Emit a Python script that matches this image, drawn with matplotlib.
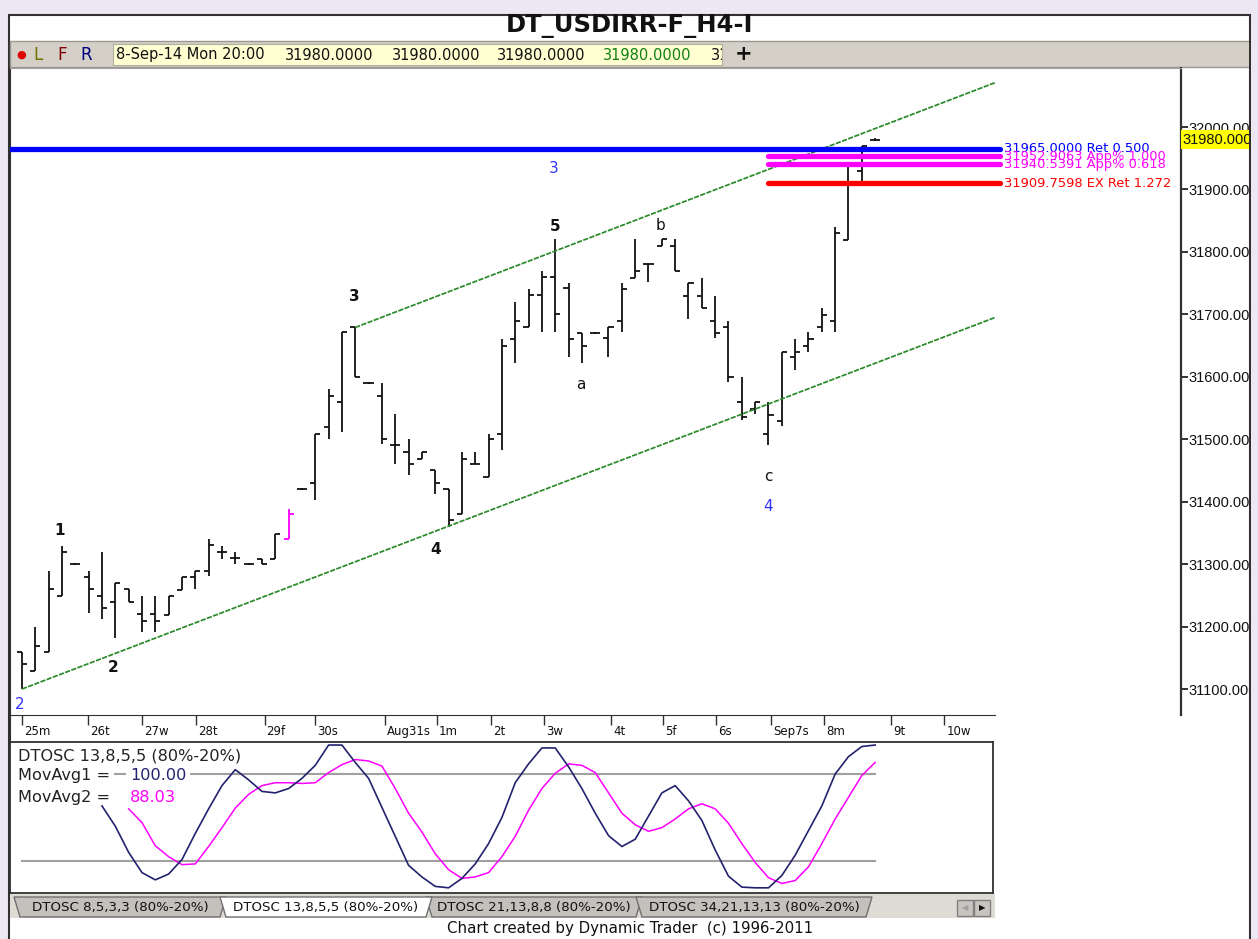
import matplotlib
matplotlib.use("Agg")
import matplotlib.pyplot as plt
from matplotlib.patches import Rectangle, Polygon
from matplotlib.transforms import blended_transform_factory

W, H = 1258, 939

# 4h bars, one per slot (open = left tick, close = right tick)
opens = [31160, 31129, 31159, 31249, 31300, 31280, 31249, 31240, 31260, 31220,
         31220, 31219, 31259, 31279, 31289, 31320, 31310, 31300, 31309, 31309,
         31340, 31420, 31430, 31520, 31559, 31679, 31590, 31569, 31490, 31480,
         31469, 31450, 31420, 31380, 31460, 31439, 31509, 31660, 31679, 31731,
         31760, 31742, 31670, 31670, 31662, 31690, 31759, 31781, 31809, 31810,
         31729, 31729, 31690, 31680, 31560, 31548, 31509, 31530, 31632, 31650,
         31680, 31690, 31819, 31930, 31980]
highs = [31160, 31200, 31289, 31329, 31302, 31289, 31320, 31269, 31260, 31249,
         31249, 31249, 31279, 31289, 31340, 31329, 31320, 31302, 31309, 31349,
         31389, 31422, 31509, 31580, 31671, 31679, 31592, 31590, 31540, 31500,
         31480, 31450, 31420, 31480, 31480, 31509, 31660, 31720, 31740, 31770,
         31820, 31750, 31670, 31672, 31680, 31750, 31820, 31781, 31820, 31820,
         31750, 31759, 31729, 31690, 31600, 31560, 31560, 31640, 31660, 31671,
         31710, 31840, 31940, 31970, 31982]
lows = [31100, 31129, 31159, 31249, 31298, 31221, 31212, 31181, 31240, 31192,
        31192, 31219, 31259, 31260, 31281, 31309, 31300, 31298, 31300, 31309,
        31340, 31418, 31402, 31501, 31511, 31599, 31588, 31492, 31461, 31442,
        31469, 31412, 31360, 31380, 31460, 31439, 31482, 31622, 31679, 31671,
        31671, 31632, 31622, 31668, 31632, 31672, 31759, 31752, 31809, 31770,
        31692, 31710, 31662, 31592, 31531, 31541, 31491, 31521, 31611, 31640,
        31671, 31671, 31819, 31911, 31978]
closes = [31140, 31169, 31260, 31320, 31300, 31260, 31229, 31269, 31240, 31209,
          31209, 31249, 31279, 31289, 31331, 31320, 31310, 31300, 31300, 31349,
          31380, 31420, 31509, 31569, 31671, 31599, 31590, 31500, 31490, 31460,
          31480, 31430, 31371, 31469, 31460, 31500, 31649, 31689, 31731, 31760,
          31700, 31660, 31650, 31670, 31680, 31740, 31770, 31781, 31820, 31770,
          31750, 31710, 31670, 31600, 31536, 31560, 31539, 31640, 31640, 31660,
          31699, 31830, 31940, 31970, 31980]
highlight_bar = 20

day_labels = ["25m", "26t", "27w", "28t", "29f", "30s", "Aug31s", "1m", "2t", "3w",
              "4t", "5f", "6s", "Sep7s", "8m", "9t", "10w"]
day_pos = [0, 4.95, 9, 13.05, 18.2, 22, 27.2, 31.1, 35.2, 39.2, 44.2, 48.1,
           52.1, 56.2, 60.2, 65.2, 69.2]

price_ticks = [31100, 31200, 31300, 31400, 31500, 31600, 31700, 31800, 31900, 32000]
last_price = 31980

# channel lines (bar index, price)
chan_lower_x = [0, 73]
chan_lower_y = [31100, 31695]
chan_upper_x = [25, 73]
chan_upper_y = [31679, 32071]

# price levels: value, start bar, label, colour
levels = [
    (31965.0000, -0.9, "31965.0000 Ret 0.500", "#0000ff"),
    (31952.9063, 56.0, "31952.9063 App% 1.000", "#ff00ff"),
    (31940.5391, 56.0, "31940.5391 App% 0.618", "#ff00ff"),
    (31909.7598, 56.0, "31909.7598 EX Ret 1.272", "#ff0000"),
]

# wave labels: text, bar, price, colour, bold
waves = [
    ("2", -0.15, 31076, "#3333ff", False),
    ("1", 2.85, 31354, "#111111", True),
    ("2", 6.83, 31134, "#111111", True),
    ("3", 24.9, 31729, "#111111", True),
    ("4", 31.06, 31324, "#111111", True),
    ("5", 40.0, 31841, "#111111", True),
    ("3", 39.9, 31933, "#3333ff", False),
    ("a", 41.9, 31587, "#111111", False),
    ("b", 47.9, 31843, "#111111", False),
    ("c", 56.0, 31441, "#111111", False),
    ("4", 55.96, 31393, "#3333ff", False),
]

# oscillator
osc_fast_x = list(range(6, 65))
osc_fast = [58, 44, 26, 12, 7, 11, 21, 39, 56, 72, 83, 76, 68, 67, 70, 77, 86, 100,
            100, 88, 77, 57, 37, 17, 9, 2.5, 1.5, 8, 18, 32, 50, 74, 87, 98, 98, 85,
            70, 53, 37.5, 30, 35, 51, 67, 72, 61.5, 48, 27.6, 9.5, 2, 1.5, 1.5, 10,
            24, 41, 58, 80, 92, 99, 100]
osc_slow_x = list(range(8, 65))
osc_slow = [56, 46.5, 30.5, 23, 17.5, 18, 30, 43, 56.5, 66, 72, 74, 74, 73.5, 74, 81,
            86.5, 90, 89, 85.5, 70, 53, 40, 25, 14, 8, 9, 12, 23, 37, 55, 70, 80.5,
            87, 86, 81, 67, 53, 45, 40.5, 43, 49, 56, 59.5, 56, 46, 32, 19, 8.5, 4.5,
            6.5, 16, 32, 49, 64, 79, 88.03]
osc_bands = [80, 20]

tabs = ["DTOSC 8,5,3,3 (80%-20%)", "DTOSC 13,8,5,5 (80%-20%)",
        "DTOSC 21,13,8,8 (80%-20%)", "DTOSC 34,21,13,13 (80%-20%)"]


def fbox(x0, y0, x1, y1):
    return [x0 / W, 1 - y1 / H, (x1 - x0) / W, (y1 - y0) / H]


lavender = "#ece7f3"
fig = plt.figure(figsize=(W / 100, H / 100), dpi=100, facecolor=lavender)

# background / frame, drawn in pixel coords
bg = fig.add_axes([0, 0, 1, 1], zorder=-5)
bg.set_xlim(0, W)
bg.set_ylim(H, 0)
bg.axis("off")
bg.add_patch(Rectangle((9, 15), 1241, 930, facecolor="white", edgecolor="#303030", lw=1.5))
bg.add_patch(Rectangle((10, 41), 1240, 26, facecolor="#d4d0c8", edgecolor="#9a9890", lw=1))
bg.text(630, 26, "DT_USDIRR-F_H4-I", ha="center", va="center", fontsize=17.5,
        fontweight="bold", color="#111111")
bg.text(21, 54.5, "\u25cf", ha="center", va="center", fontsize=8, color="#e00000")
bg.text(38, 54.5, "L", ha="center", va="center", fontsize=12, color="#707000")
bg.text(62, 54.5, "F", ha="center", va="center", fontsize=12, color="#800000")
bg.text(86, 54.5, "R", ha="center", va="center", fontsize=12, color="#000080")
bg.text(744, 54.5, "+", ha="center", va="center", fontsize=15, fontweight="bold", color="#111111")

# tab strip
bg.add_patch(Rectangle((10, 894), 985, 24, facecolor="#dedad4", edgecolor="none"))
tab_x = [(14, 226), (426, 642), (636, 872), (220, 432)]
tab_order = [0, 2, 3, 1]
for k, (x0, x1) in zip(tab_order, tab_x):
    active = k == 1
    bg.add_patch(Polygon([(x0, 897), (x1, 897), (x1 - 6, 917), (x0 + 6, 917)],
                         closed=True, facecolor="white" if active else "#c4c0bc",
                         edgecolor="#707070", lw=1))
    bg.text((x0 + x1) / 2, 907.5, tabs[k], ha="center", va="center", fontsize=9.6,
            color="#111111")
bg.add_patch(Rectangle((957, 900), 16, 16, facecolor="#c8c4c0", edgecolor="#808080", lw=1))
bg.add_patch(Rectangle((974, 900), 16, 16, facecolor="#c8c4c0", edgecolor="#808080", lw=1))
bg.text(965, 908, "\u25c0", ha="center", va="center", fontsize=6, color="#a0a0a0")
bg.text(982, 908, "\u25b6", ha="center", va="center", fontsize=6, color="#111111")
bg.text(630, 929, "Chart created by Dynamic Trader  (c) 1996-2011", ha="center",
        va="center", fontsize=10.8, color="#111111")

# header data strip
hd = fig.add_axes(fbox(113, 44, 722, 65))
hd.set_facecolor("#ffffd2")
hd.set_xlim(113, 722)
hd.set_ylim(65, 44)
hd.set_xticks([])
hd.set_yticks([])
for s in hd.spines.values():
    s.set_color("#b0b0a0")
head_items = [(116, "8-Sep-14 Mon 20:00", "#111111"), (285, "31980.0000", "#111111"),
              (392, "31980.0000", "#111111"), (497, "31980.0000", "#111111"),
              (603, "31980.0000", "#108010"), (711, "31980.0000", "#111111")]
for x, t, c in head_items:
    hd.text(x, 55, t, ha="left", va="center", fontsize=10.5, color=c, clip_on=True)

# price pane
ax = fig.add_axes(fbox(10, 68, 1181, 715))
ax.set_xlim(-0.9, 86.95)
ax.set_ylim(31058.4, 32094.5)
ax.set_facecolor("white")
ax.spines["bottom"].set_visible(False)
ax.spines["top"].set_color("#a0a0a0")
ax.spines["left"].set_color("#303030")
ax.spines["right"].set_color("#303030")
ax.spines["right"].set_linewidth(1.6)
ax.set_xticks([])
ax.yaxis.tick_right()
ax.set_yticks(price_ticks)
ax.set_yticklabels([f"{v:.4f}" for v in price_ticks], family="Liberation Sans")
ax.tick_params(axis="y", direction="out", length=5, width=1.2, pad=0.5, labelsize=10.5,
               colors="#111111")

xs = list(range(len(opens)))
colors = ["#ff00ff" if i == highlight_bar else "#111111" for i in xs]
ax.vlines(xs, lows, highs, colors=colors, lw=1.3)
ax.hlines(opens, [x - 0.38 for x in xs], xs, colors=colors, lw=1.3)
ax.hlines(closes, xs, [x + 0.38 for x in xs], colors=colors, lw=1.3)

ax.plot(chan_lower_x, chan_lower_y, color="#2a8a2a", lw=1.25, ls=(0, (3, 0.8)))
ax.plot(chan_upper_x, chan_upper_y, color="#2a8a2a", lw=1.25, ls=(0, (3, 0.8)))

for val, x0, label, c in levels:
    ax.plot([x0, 73.4], [val, val], color=c, lw=3.8, solid_capstyle="round", zorder=3)
    ax.text(73.7, val, label, color=c, fontsize=9.4, ha="left", va="center")

for t, x, y, c, b in waves:
    ax.text(x, y, t, color=c, fontsize=11, fontweight="bold" if b else "normal",
            ha="center", va="center")

tr = blended_transform_factory(ax.transAxes, ax.transData)
ax.text(1.0015, last_price, f"{last_price:.4f}", transform=tr, ha="left", va="center",
        fontsize=10.5, color="#111111", clip_on=False, family="Liberation Sans",
        bbox=dict(boxstyle="square,pad=0.15", facecolor="#ffff00", edgecolor="none"))

# date strip
ax3 = fig.add_axes(fbox(10, 715, 995, 742))
ax3.set_xlim(-0.9, 73.0)
ax3.set_ylim(0, 1)
for s in ["right", "bottom"]:
    ax3.spines[s].set_visible(False)
ax3.spines["top"].set_color("#303030")
ax3.spines["left"].set_color("#303030")
ax3.set_yticks([])
ax3.set_xticks(day_pos)
ax3.tick_params(axis="x", direction="in", top=True, bottom=False, labelbottom=False,
                length=7, width=1, colors="#303030")
for p, lab in zip(day_pos, day_labels):
    ax3.text(p + 0.15, 0.38, lab, ha="left", va="center", fontsize=8.5, color="#111111")

# oscillator pane
ax2 = fig.add_axes(fbox(10, 742, 993, 893))
ax2.set_xlim(-0.9, 72.84)
ax2.set_ylim(-2.07, 102.1)
ax2.set_xticks([])
ax2.set_yticks([])
for s in ax2.spines.values():
    s.set_color("#303030")
    s.set_linewidth(1.3)
for b in osc_bands:
    ax2.plot([0, 64], [b, b], color="#a0a0a0", lw=1.5)
ax2.plot(osc_slow_x, osc_slow, color="#ff00ff", lw=1.1)
ax2.plot(osc_fast_x, osc_fast, color="#22226e", lw=1.2)
wbox = dict(boxstyle="square,pad=0.25", facecolor="white", edgecolor="none")
ax2.text(0.008, 0.905, "DTOSC 13,8,5,5 (80%-20%)", transform=ax2.transAxes, fontsize=11.6,
         color="#222222", ha="left", va="center", bbox=wbox)
ax2.text(0.008, 0.78, "MovAvg1 =", transform=ax2.transAxes, fontsize=11.6,
         color="#222222", ha="left", va="center", bbox=wbox)
ax2.text(0.122, 0.78, f"{osc_fast[-1]:.2f}", transform=ax2.transAxes, fontsize=11.6,
         color="#22226e", ha="left", va="center", bbox=wbox)
ax2.text(0.008, 0.635, "MovAvg2 =", transform=ax2.transAxes, fontsize=11.6,
         color="#222222", ha="left", va="center")
ax2.text(0.122, 0.635, f"{osc_slow[-1]:.2f}", transform=ax2.transAxes, fontsize=11.6,
         color="#ff00ff", ha="left", va="center")

# right border over the cut-off axis labels
fig.add_artist(Rectangle((1250 / W, 0), 8 / W, 1 - 15 / H, transform=fig.transFigure,
                         facecolor=lavender, edgecolor="none", zorder=10))
fig.add_artist(Rectangle((1249 / W, 0), 1.5 / W, 1 - 15 / H, transform=fig.transFigure,
                         facecolor="#303030", edgecolor="none", zorder=11))

fig.savefig("out.png", dpi=100, facecolor=lavender)
